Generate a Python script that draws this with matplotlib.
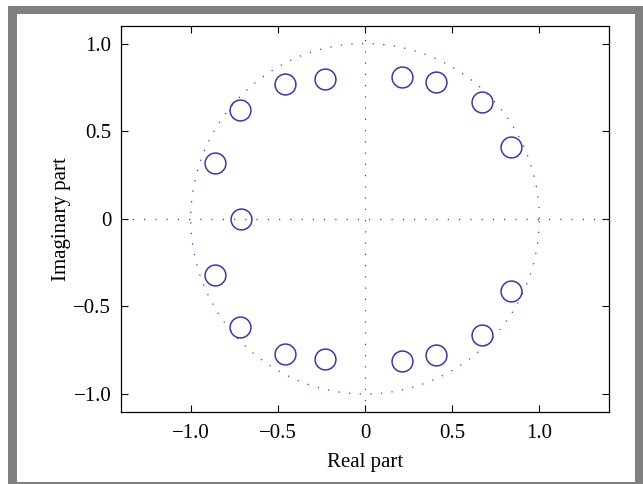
import matplotlib
matplotlib.use("Agg")
import matplotlib.pyplot as plt
import numpy as np
from matplotlib.patches import Rectangle

# Zeros (upper half-plane + real), conjugates mirrored
zeros_re_upper = [-0.23, -0.46, -0.72, -0.86, 0.21, 0.41, 0.67, 0.84]
zeros_im_upper = [0.80, 0.77, 0.62, 0.32, 0.81, 0.78, 0.665, 0.41]
zeros_re_real = [-0.71]
zeros_im_real = [0.0]

xticks = [-1.0, -0.5, 0, 0.5, 1.0]
xticklabels = ["\u22121.0", "\u22120.5", "0", "0.5", "1.0"]
yticks = [-1.0, -0.5, 0, 0.5, 1.0]
yticklabels = ["\u22121.0", "\u22120.5", "0", "0.5", "1.0"]

plt.rcParams['font.family'] = ['Liberation Serif', 'DejaVu Serif']
plt.rcParams['mathtext.fontset'] = 'stix'

W, H = 643, 484
fig = plt.figure(figsize=(W / 100, H / 100), dpi=100)

# gray frame
fig.patches.append(Rectangle((8 / W, 0), (643 - 8) / W, (484 - 6) / H,
                             transform=fig.transFigure, facecolor='#808080',
                             edgecolor='none', zorder=-2))
fig.patches.append(Rectangle((16.5 / W, (484 - 481.5) / H), (635 - 16.5) / W, (481.5 - 13.5) / H,
                             transform=fig.transFigure, facecolor='white',
                             edgecolor='none', zorder=-1))

ax = fig.add_axes([121 / W, 1 - 411.5 / H, (609 - 121) / W, (411.5 - 26) / H])
ax.set_zorder(1)

dotc = '#3838c8'
t = np.linspace(0, 2 * np.pi, 1000)
ax.plot(np.cos(t), np.sin(t), linestyle=(0, (1, 7.5)), color=dotc, lw=0.9)
ax.axhline(0, linestyle=(0, (1, 8)), color=dotc, lw=0.9)
ax.axvline(0, linestyle=(0, (1, 8)), color=dotc, lw=0.9)

re = np.array(zeros_re_upper + zeros_re_real + zeros_re_upper)
im = np.array(zeros_im_upper + zeros_im_real + [-v for v in zeros_im_upper])
ax.plot(re, im, 'o', markersize=15, markerfacecolor='none',
        markeredgecolor='#3a3a9e', markeredgewidth=1.1, linestyle='none')

ax.set_xlim(-1.4, 1.4)
ax.set_ylim(-1.1, 1.1)
ax.set_xticks(xticks)
ax.set_xticklabels(xticklabels)
ax.set_yticks(yticks)
ax.set_yticklabels(yticklabels)
ax.tick_params(direction='in', top=True, right=True, length=5, width=0.8,
               labelsize=15)
ax.tick_params(axis='x', pad=9)
ax.tick_params(axis='y', pad=7)
for s in ax.spines.values():
    s.set_linewidth(0.9)
ax.set_xlabel("Real part", fontsize=15, labelpad=7)
ax.set_ylabel("Imaginary part", fontsize=15, labelpad=2)

fig.savefig("out.png", dpi=100)
